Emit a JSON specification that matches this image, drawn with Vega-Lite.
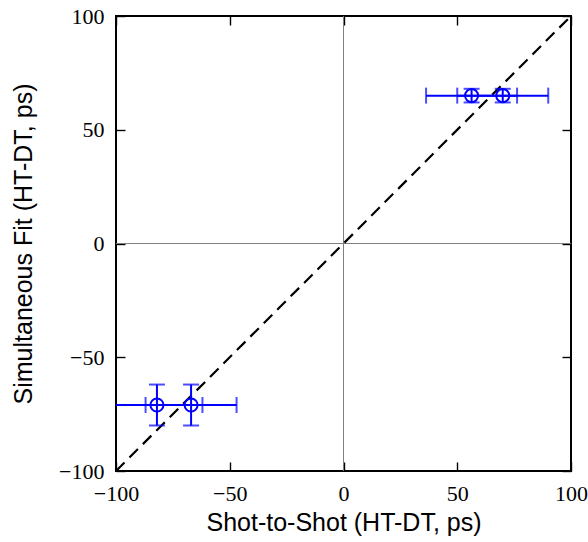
{
  "$schema": "https://vega.github.io/schema/vega-lite/v6.json",
  "autosize": {"type": "none"},
  "padding": {"left": 116, "top": 16, "right": 17, "bottom": 71},
  "width": 455,
  "height": 455,
  "background": "white",
  "config": {
    "view": {"stroke": "black", "strokeWidth": 2},
    "axis": {
      "grid": false,
      "domain": false,
      "ticks": true,
      "tickColor": "black",
      "tickOpacity": 1,
      "tickWidth": 1.4,
      "tickSize": 9,
      "offset": -9,
      "labelFlush": false,
      "labelOverlap": false,
      "labelFont": "Liberation Serif",
      "labelFontSize": 22,
      "labelColor": "black",
      "labelPadding": 12,
      "titleFont": "Liberation Sans",
      "titleFontSize": 25,
      "titleFontWeight": "normal",
      "titleColor": "black",
      "zindex": 1
    }
  },
  "datasets": {
    "pts": [
      {"x": 56.3, "y": 65, "xlo": 36.3, "xhi": 76.3, "ylo": 62, "yhi": 68},
      {"x": 70, "y": 65, "xlo": 50, "xhi": 90, "ylo": 62, "yhi": 68},
      {"x": -82, "y": -71, "xlo": -102, "xhi": -62, "ylo": -80, "yhi": -62},
      {"x": -67, "y": -71, "xlo": -87, "xhi": -47, "ylo": -80, "yhi": -62}
    ]
  },
  "data": {"name": "pts"},
  "resolve": {"axis": {"x": "independent", "y": "independent"}},
  "layer": [
    {
      "mark": {"type": "rule", "color": "#808080", "strokeWidth": 1},
      "encoding": {
        "x": {"datum": 0, "type": "quantitative", "scale": {"domain": [-100, 100], "nice": false, "zero": false}, "axis": {"orient": "bottom", "values": [-100, -50, 0, 50, 100], "title": "Shot-to-Shot (HT-DT, ps)", "titlePadding": 6}},
        "y": {"datum": -100, "type": "quantitative", "scale": {"domain": [-100, 100], "nice": false, "zero": false}, "axis": {"orient": "left", "values": [-100, -50, 0, 50, 100], "title": "Simultaneous Fit (HT-DT, ps)", "titlePadding": 22}},
        "y2": {"datum": 100}
      }
    },
    {
      "mark": {"type": "rule", "color": "#808080", "strokeWidth": 1},
      "encoding": {
        "x": {"datum": -100, "type": "quantitative", "axis": {"orient": "top", "values": [-100, -50, 0, 50, 100], "labels": false, "title": null}},
        "x2": {"datum": 100},
        "y": {"datum": 0, "type": "quantitative", "axis": {"orient": "right", "values": [-100, -50, 0, 50, 100], "labels": false, "title": null}}
      }
    },
    {
      "data": {"values": [{"a": -100, "b": -100}, {"a": 100, "b": 100}]},
      "mark": {"type": "line", "color": "black", "strokeWidth": 2.2, "strokeDash": [12, 7], "clip": true},
      "encoding": {
        "x": {"field": "a", "type": "quantitative", "axis": null},
        "y": {"field": "b", "type": "quantitative", "axis": null}
      }
    },
    {
      "mark": {"type": "rule", "color": "#0000ff", "strokeWidth": 2, "clip": true},
      "encoding": {
        "x": {"field": "xlo", "type": "quantitative", "axis": null},
        "x2": {"field": "xhi"},
        "y": {"field": "y", "type": "quantitative", "axis": null}
      }
    },
    {
      "mark": {"type": "rule", "color": "#0000ff", "strokeWidth": 2, "clip": true},
      "encoding": {
        "x": {"field": "x", "type": "quantitative", "axis": null},
        "y": {"field": "ylo", "type": "quantitative", "axis": null},
        "y2": {"field": "yhi"}
      }
    },
    {
      "mark": {"type": "tick", "orient": "vertical", "color": "#0000ff", "thickness": 2, "size": 16, "clip": true},
      "encoding": {
        "x": {"field": "xlo", "type": "quantitative", "axis": null},
        "y": {"field": "y", "type": "quantitative", "axis": null}
      }
    },
    {
      "mark": {"type": "tick", "orient": "vertical", "color": "#0000ff", "thickness": 2, "size": 16, "clip": true},
      "encoding": {
        "x": {"field": "xhi", "type": "quantitative", "axis": null},
        "y": {"field": "y", "type": "quantitative", "axis": null}
      }
    },
    {
      "mark": {"type": "tick", "orient": "horizontal", "color": "#0000ff", "thickness": 2, "size": 16, "clip": true},
      "encoding": {
        "x": {"field": "x", "type": "quantitative", "axis": null},
        "y": {"field": "ylo", "type": "quantitative", "axis": null}
      }
    },
    {
      "mark": {"type": "tick", "orient": "horizontal", "color": "#0000ff", "thickness": 2, "size": 16, "clip": true},
      "encoding": {
        "x": {"field": "x", "type": "quantitative", "axis": null},
        "y": {"field": "yhi", "type": "quantitative", "axis": null}
      }
    },
    {
      "mark": {"type": "point", "shape": "circle", "filled": false, "color": "#0000ff", "strokeWidth": 2, "size": 170, "opacity": 1},
      "encoding": {
        "x": {"field": "x", "type": "quantitative", "axis": null},
        "y": {"field": "y", "type": "quantitative", "axis": null}
      }
    }
  ]
}
